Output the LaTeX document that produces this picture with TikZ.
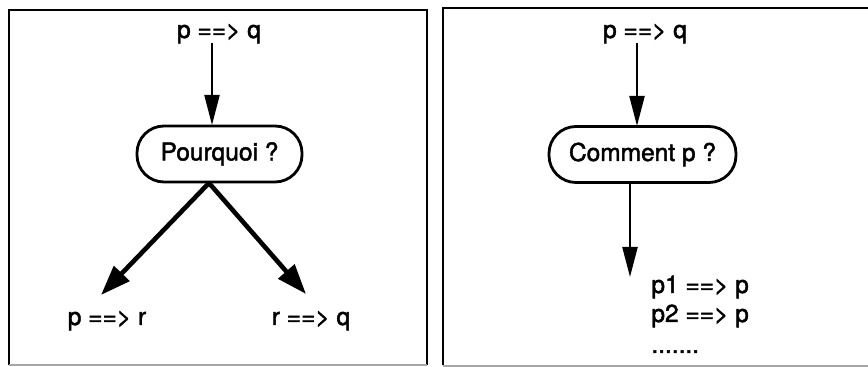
\documentclass[tikz,border=0pt]{standalone}
\usepackage{fontspec}
\setmainfont{TeX Gyre Heros}[UprightFeatures={FakeBold=1.8}]
\usetikzlibrary{arrows.meta}
\begin{document}
\begin{tikzpicture}[x=0.5pt,y=-0.5pt,
  lbl/.style={font=\fontsize{12.25}{14}\selectfont, inner sep=0pt, anchor=base},
  pill/.style={draw, line width=1.4pt, rounded corners=13.5pt, minimum height=28pt,
    font=\fontsize{12.25}{14}\selectfont, inner sep=0pt},
  thinarr/.style={line width=1.1pt, -{Triangle[length=15pt,width=7.5pt]}},
  thickarr/.style={line width=2.3pt, -{Triangle[length=15pt,width=10.5pt]}},
  frame/.style={line width=1.4pt},
  faint/.style={line width=0.6pt, black!35}]
\useasboundingbox (0,0) rectangle (868,367);
% frames
\draw[frame] (9,365) -- (9,10) -- (427,10) -- (427,365);
\draw[faint] (9,365) -- (427,365);
\draw[frame] (443,365) -- (443,8) -- (868,8);
\draw[faint] (443,366) -- (868,366);
% left panel
\node[lbl] (pq1) at (219,38) {p ==> q};
\node[pill, minimum width=82.5pt] (b1) at (219.5,154) {Pourquoi ?};
\node[lbl] (pr) at (107,325) {p ==> r};
\node[lbl] (rq) at (311,325) {r ==> q};
\coordinate (t1) at (212,43);
\coordinate (e1) at (212,125);
\coordinate (s1) at (209,183);
\coordinate (e2) at (101,295);
\coordinate (e3) at (306,294);
\draw[thinarr] (t1) -- (e1);
\draw[thickarr] (s1) -- (e2);
\draw[thickarr] (s1) -- (e3);
% right panel
\node[lbl] (pq2) at (645,38) {p ==> q};
\node[pill, minimum width=93.5pt] (b2) at (642.5,154.5) {Comment p ?};
\node[lbl, anchor=base west] (p1) at (651,293) {p1 ==> p};
\node[lbl, anchor=base west] (p2) at (651,322) {p2 ==> p};
\node[lbl, anchor=base west] (dots) at (651,353) {.......};
\coordinate (t2) at (637,43);
\coordinate (e4) at (637,126);
\coordinate (s2) at (630,183);
\coordinate (e5) at (630,277);
\draw[thinarr] (t2) -- (e4);
\draw[thinarr] (s2) -- (e5);
\end{tikzpicture}
\end{document}
